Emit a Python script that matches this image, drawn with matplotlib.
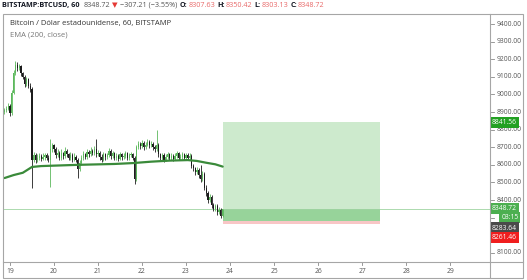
import matplotlib
matplotlib.use("Agg")
import matplotlib.pyplot as plt
from matplotlib.patches import Rectangle
from matplotlib.lines import Line2D
import numpy as np

plt.rcParams["font.family"] = ["Open Sans", "DejaVu Sans"]

# hourly candles, the first one opens on the 18th at 21:00
first_candle_day = 18.875
first_open = 8900.0
closes = [
    8910, 8920, 8935, 8895, 9010, 9120, 9165, 9150, 9160, 9120,
    9100, 9060, 9085, 9050, 9030, 8630, 8655, 8625, 8640, 8650,
    8635, 8645, 8655, 8640, 8630, 8690, 8710, 8690, 8655, 8670,
    8640, 8665, 8650, 8680, 8660, 8640, 8655, 8630, 8645, 8630,
    8575, 8610, 8640, 8660, 8645, 8675, 8660, 8680, 8665, 8690,
    8660, 8670, 8645, 8630, 8660, 8645, 8655, 8680, 8650, 8665,
    8640, 8650, 8635, 8660, 8645, 8650, 8665, 8640, 8655, 8660,
    8640, 8520, 8700, 8720, 8705, 8725, 8700, 8715, 8730, 8710,
    8720, 8700, 8690, 8715, 8660, 8640, 8655, 8630, 8645, 8660,
    8640, 8650, 8635, 8650, 8665, 8640, 8645, 8660, 8640, 8655,
    8640, 8650, 8595, 8580, 8560, 8570, 8540, 8520, 8550, 8470,
    8440, 8400, 8420, 8370, 8350, 8365, 8330, 8345, 8307.63, 8348.72,
]
highs = [
    8925, 8935, 8950, 8945, 9025, 9140, 9190, 9185, 9175, 9170,
    9130, 9110, 9100, 9095, 9065, 9040, 8675, 8665, 8660, 8665,
    8660, 8665, 8670, 8665, 8655, 8745, 8725, 8720, 8700, 8690,
    8680, 8690, 8675, 8700, 8690, 8670, 8675, 8665, 8665, 8655,
    8640, 8625, 8655, 8680, 8670, 8690, 8685, 8700, 8690, 8705,
    8745, 8685, 8680, 8660, 8675, 8670, 8670, 8695, 8690, 8680,
    8675, 8665, 8660, 8675, 8670, 8665, 8680, 8675, 8670, 8675,
    8670, 8650, 8715, 8735, 8730, 8740, 8735, 8730, 8745, 8740,
    8735, 8730, 8710, 8800, 8725, 8670, 8670, 8665, 8660, 8675,
    8670, 8665, 8660, 8665, 8680, 8675, 8660, 8675, 8670, 8670,
    8665, 8665, 8660, 8605, 8590, 8585, 8580, 8600, 8565, 8560,
    8485, 8450, 8435, 8430, 8385, 8380, 8375, 8360, 8355, 8350.42,
]
lows = [
    8890, 8900, 8910, 8880, 8885, 9000, 9110, 9135, 9140, 9105,
    9085, 9045, 9050, 9035, 9015, 8470, 8615, 8610, 8615, 8625,
    8620, 8625, 8630, 8625, 8615, 8475, 8675, 8675, 8640, 8645,
    8625, 8630, 8635, 8640, 8645, 8625, 8630, 8615, 8620, 8615,
    8525, 8565, 8600, 8630, 8635, 8635, 8645, 8650, 8655, 8655,
    8645, 8650, 8630, 8615, 8620, 8630, 8635, 8645, 8635, 8640,
    8625, 8630, 8620, 8625, 8630, 8635, 8640, 8625, 8630, 8645,
    8625, 8490, 8510, 8690, 8690, 8695, 8685, 8690, 8705, 8695,
    8700, 8685, 8675, 8680, 8645, 8625, 8630, 8615, 8620, 8635,
    8625, 8630, 8620, 8625, 8640, 8625, 8630, 8635, 8625, 8630,
    8625, 8630, 8580, 8565, 8545, 8550, 8525, 8505, 8510, 8455,
    8425, 8385, 8390, 8355, 8335, 8340, 8315, 8320, 8298, 8303.13,
]

# EMA(200) read at a few candles
ema_idx = [0, 5, 10, 15, 20, 40, 60, 70, 80, 90, 100, 105, 110, 115, 119]
ema_val = [8525, 8542, 8555, 8588, 8593, 8600, 8605, 8610, 8618, 8624,
           8627, 8622, 8612, 8603, 8590]

last_price = 8348.72
entry_price = 8283.64
target_price = 8841.56
stop_price = 8261.46
position_end_day = 27.4
countdown = "03:15"

price_ticks = list(range(8100, 9500, 100))
hidden_ticks = [8200, 8300]  # covered by the price labels
day_ticks = list(range(19, 30))

title = "BITSTAMP:BTCUSD, 60"
change = "\u2212307.21 (\u22123.55%)"
ohlc_names = ["O:", "H:", "L:", "C:"]
ohlc_vals = ["8307.63", "8350.42", "8303.13", "8348.72"]
legend_main = "Bitcoin / Dólar estadounidense, 60, BITSTAMP"
legend_ema = "EMA (200, close)"

W, H = 527, 280
UP = "#5cb85c"
DOWN = "#1c1c1c"
FRAME = "#a6a6a6"
TXT = "#555555"
RED_TXT = "#e86a6a"
FS = 4.9


def fx(px):
    return px / W


def fy(py):
    return 1 - py / H


fig = plt.figure(figsize=(W / 100, H / 100), dpi=100)
fig.patch.set_facecolor("white")

ylim = (8048, 9457)
xlim = (18.841, 29.909)

ax = fig.add_axes([fx(3), fy(262), fx(490) - fx(3), fy(14) - fy(262)])
pax = fig.add_axes([fx(490), fy(262), fx(523) - fx(490), fy(14) - fy(262)])
tax = fig.add_axes([fx(3), fy(278), fx(490) - fx(3), fy(262) - fy(278)])
for a in (ax, pax, tax):
    for s in a.spines.values():
        s.set_visible(False)
    a.set_xticks([])
    a.set_yticks([])
    a.patch.set_alpha(0)

ax.set_xlim(*xlim)
ax.set_ylim(*ylim)
pax.set_xlim(0, 1)
pax.set_ylim(*ylim)
tax.set_xlim(*xlim)
tax.set_ylim(0, 1)

# candles
n = len(closes)
t = first_candle_day + np.arange(n) / 24.0
c = np.array(closes, dtype=float)
o = np.concatenate([[first_open], c[:-1]])
hi = np.array(highs, dtype=float)
lo = np.array(lows, dtype=float)
colors = [UP if cc >= oo else DOWN for oo, cc in zip(o, c)]
ax.vlines(t, lo, hi, colors=colors, linewidth=0.6, zorder=3)
body_h = np.maximum(np.abs(c - o), 4)
ax.bar(t, body_h, bottom=np.minimum(o, c), width=0.6 / 24, color=colors,
       linewidth=0, zorder=3)

# ema
ax.plot(t[ema_idx], ema_val, color="#3a8a3a", lw=1.6, zorder=4,
        solid_capstyle="round")

# last price line
ax.axhline(last_price, color="#9fd4a1", lw=0.6, zorder=2)

# long position tool
x0 = t[-1]
ax.add_patch(Rectangle((x0, entry_price), position_end_day - x0,
                       target_price - entry_price, fc="#cdeacd", ec="none",
                       zorder=1))
ax.add_patch(Rectangle((x0, entry_price), position_end_day - x0,
                       last_price - entry_price, fc="#97d39a", ec="none",
                       zorder=1.5))
ax.add_patch(Rectangle((x0, stop_price), position_end_day - x0,
                       entry_price - stop_price, fc="#f8c6c6", ec="none",
                       zorder=1))

# price scale
for p in price_ticks:
    pax.plot([0.03, 0.12], [p, p], color="#888888", lw=0.6)
    if p in hidden_ticks:
        continue
    pax.text(0.2, p, f"{p:.2f}", fontsize=FS, color=TXT, va="center",
             ha="left")


def price_label(value, text, color, dy=0, x=0.44):
    pax.annotate(text, xy=(x, value), xycoords=("axes fraction", "data"),
                 xytext=(0, dy), textcoords="offset pixels", ha="center",
                 va="center", fontsize=FS, color="white", zorder=6,
                 bbox=dict(boxstyle="square,pad=0.3", fc=color, ec="none"))


price_label(target_price, f"{target_price:.2f}", "#22a022")
price_label(last_price, f"{last_price:.2f}", "#4caf50", dy=1)
price_label(last_price, countdown, "#4caf50", dy=-8.5, x=0.6)
price_label(entry_price, f"{entry_price:.2f}", "#4a4a4a", dy=-7.5)
price_label(stop_price, f"{stop_price:.2f}", "#f01e1e", dy=-13.5)

# time scale
for d in day_ticks:
    tax.plot([d, d], [1, 0.8], color="#888888", lw=0.6)
    tax.text(d, 0.42, str(d), fontsize=FS, color=TXT, ha="center",
             va="center")

# frame
fig.add_artist(Rectangle((fx(3), fy(278)), fx(523) - fx(3), fy(14) - fy(278),
                         transform=fig.transFigure, fill=False, ec=FRAME,
                         lw=0.8))
fig.add_artist(Line2D([fx(490), fx(490)], [fy(14), fy(278)], color=FRAME,
                      lw=0.8))
fig.add_artist(Line2D([fx(3), fx(523)], [fy(262), fy(262)], color=FRAME,
                      lw=0.8))

# header line
renderer = fig.canvas.get_renderer()
parts = [(title, "#131722", "bold", 4),
         (f"{last_price:.2f}", TXT, "normal", 2),
         ("\u25bc", "#e53935", "normal", 2),
         (change, TXT, "normal", 3)]
for name, val in zip(ohlc_names, ohlc_vals):
    parts.append((name, "#131722", "bold", 0.5))
    parts.append((val, RED_TXT, "normal", 2.5))
xpos = 2
for s, col, wt, gap in parts:
    txt = fig.text(fx(xpos), fy(5.5), s, color=col, fontweight=wt,
                   fontsize=5.2, ha="left", va="center")
    bb = txt.get_window_extent(renderer)
    xpos += bb.width + gap

fig.text(fx(10), fy(24), legend_main, fontsize=5.5, color="#333333",
         ha="left", va="center")
fig.text(fx(10), fy(35), legend_ema, fontsize=5.5, color="#777777",
         ha="left", va="center")

fig.savefig("out.png", dpi=100)
